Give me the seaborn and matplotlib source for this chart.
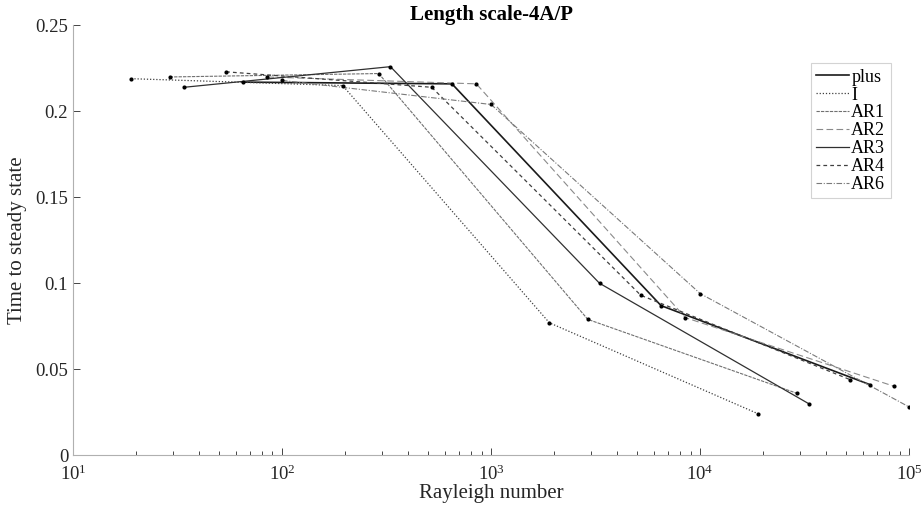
import numpy as np
import pandas as pd
import seaborn as sns
import matplotlib.pyplot as plt
from matplotlib.lines import Line2D
from matplotlib.ticker import LogLocator, FixedLocator

# Rayleigh numbers and time to steady state for each shape
series = ["plus", "I", "AR1", "AR2", "AR3", "AR4", "AR6"]
ra_plus = [65, 650, 6500, 65000]
t_plus = [0.217, 0.216, 0.087, 0.041]
ra_I = [19, 195, 1900, 19000]
t_I = [0.219, 0.215, 0.077, 0.024]
ra_AR1 = [29, 290, 2900, 29000]
t_AR1 = [0.220, 0.222, 0.079, 0.036]
ra_AR2 = [85, 850, 8500, 85000]
t_AR2 = [0.220, 0.216, 0.080, 0.040]
ra_AR3 = [34, 330, 3300, 33000]
t_AR3 = [0.214, 0.226, 0.100, 0.030]
ra_AR4 = [54, 520, 5200, 52000]
t_AR4 = [0.223, 0.214, 0.093, 0.044]
ra_AR6 = [100, 1000, 10000, 100000]
t_AR6 = [0.218, 0.204, 0.094, 0.028]

ra = [ra_plus, ra_I, ra_AR1, ra_AR2, ra_AR3, ra_AR4, ra_AR6]
tss = [t_plus, t_I, t_AR1, t_AR2, t_AR3, t_AR4, t_AR6]

rows = []
for name, xs, ys in zip(series, ra, tss):
    for xv, yv in zip(xs, ys):
        rows.append((name, xv, yv))
df = pd.DataFrame(rows, columns=["shape", "Ra", "t"])

colors = {"plus": "#1a1a1a", "I": "#404040", "AR1": "#707070", "AR2": "#8a8a8a",
          "AR3": "#303030", "AR4": "#404040", "AR6": "#7a7a7a"}
dashes = {"plus": "", "I": (1, 1.5), "AR1": (3, 1), "AR2": (6, 3),
          "AR3": "", "AR4": (3, 2.5), "AR6": (5, 1.5, 1, 1.5)}
widths = {"plus": 1.2, "I": 0.9, "AR1": 0.8, "AR2": 0.8, "AR3": 0.9, "AR4": 0.9, "AR6": 0.8}

plt.rcParams['font.family'] = ['Liberation Serif', 'DejaVu Serif']
plt.rcParams['mathtext.fontset'] = 'stix'

fig = plt.figure(figsize=(9.24, 5.08), dpi=100)
ax = fig.add_axes([0.079, 0.104, 0.905, 0.846])

for name in series:
    sub = df[df["shape"] == name]
    sns.lineplot(data=sub, x="Ra", y="t", ax=ax, color=colors[name],
                 linewidth=widths[name], estimator=None, sort=False,
                 dashes=False, legend=False)
    ln = ax.get_lines()[-1]
    if dashes[name] == "":
        ln.set_linestyle("-")
    else:
        ln.set_dashes(dashes[name])

sns.scatterplot(data=df, x="Ra", y="t", ax=ax, color="black", s=9,
                linewidth=0, zorder=5, legend=False)

ax.set_xscale("log")
ax.set_xlim(10, 1e5)
ax.set_ylim(0, 0.25)
ax.set_yticks([0, 0.05, 0.1, 0.15, 0.2, 0.25])
ax.set_yticklabels(["0", "0.05", "0.1", "0.15", "0.2", "0.25"])
ax.xaxis.set_major_locator(FixedLocator([1e1, 1e2, 1e3, 1e4, 1e5]))
ax.xaxis.set_minor_locator(LogLocator(base=10, subs=np.arange(2, 10)))
ax.tick_params(axis="both", which="both", direction="in", labelsize=13.5, colors="#262626")
ax.tick_params(axis="both", which="major", length=5, width=0.6)
ax.tick_params(axis="x", which="minor", length=3, width=0.6)
ax.tick_params(axis="x", which="major", pad=7)
for s in ["top", "right"]:
    ax.spines[s].set_visible(False)
for s in ["left", "bottom"]:
    ax.spines[s].set_color("#b0b0b0")
    ax.spines[s].set_linewidth(0.8)

ax.set_xlabel("Rayleigh number", fontsize=15, labelpad=0, color="#262626")
ax.set_ylabel("Time to steady state", fontsize=15, labelpad=6, color="#262626")
ax.set_title("Length scale-4A/P", fontsize=15, fontweight="bold", pad=4)

handles = []
for name in series:
    h = Line2D([0], [0], color=colors[name], linewidth=widths[name])
    if dashes[name] != "":
        h.set_dashes(dashes[name])
    handles.append(h)
leg = ax.legend(handles, series, loc="upper right", bbox_to_anchor=(0.978, 0.912),
                fontsize=13, frameon=True, fancybox=False, handlelength=1.8,
                handletextpad=0.15, labelspacing=0.05, borderpad=0.3,
                borderaxespad=0.0)
leg.get_frame().set_edgecolor("#c8c8c8")
leg.get_frame().set_linewidth(0.8)

fig.savefig("out.png", dpi=100)
